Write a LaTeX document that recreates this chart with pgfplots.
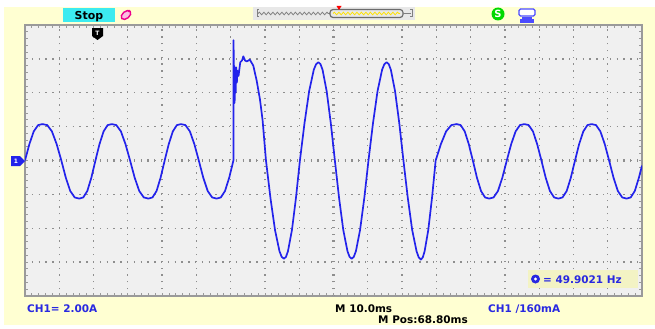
\documentclass[border=0pt]{standalone}
\usepackage{fontspec}
\setmainfont{DejaVu Sans}
\usepackage{pgfplots}
\pgfplotsset{compat=1.18}
\usetikzlibrary{decorations.pathmorphing}
\definecolor{scrbg}{HTML}{FFFFD2}
\definecolor{plotbg}{HTML}{F0F0F0}
\definecolor{trace}{RGB}{35,35,235}
\definecolor{txtblue}{RGB}{40,40,225}
\definecolor{gridc}{HTML}{8E8E8E}
\definecolor{framec}{HTML}{9A9A9A}
\definecolor{stopc}{RGB}{60,235,240}
\definecolor{freqbg}{HTML}{F3F3C4}
\begin{document}
\begin{tikzpicture}[x=1bp,y=1bp]
\fill[white] (0,0) rectangle (655,328);
\fill[scrbg] (4,3) rectangle (655,321);
\begin{axis}[at={(25bp,32bp)}, anchor=south west, scale only axis,
  width=617bp, height=271bp, xmin=0, xmax=180, ymin=-8, ymax=8,
  axis background/.style={fill=plotbg},
  xtick={0,10,...,180}, ytick={-8,-6,...,8},
  minor x tick num=4, minor y tick num=4,
  xticklabels={}, yticklabels={},
  tick align=inside, xtick pos=both, ytick pos=both,
  major tick length=3bp, minor tick length=3bp,
  every tick/.style={framec, line width=0.9bp},
  axis line style={framec, line width=1.2bp},
  grid=major,
  major grid style={gridc, line width=1.3bp, dash pattern=on 1.3bp off 5.5bp},
  extra x ticks={90}, extra y ticks={0},
  extra x tick labels={}, extra y tick labels={},
  extra tick style={grid=major, major grid style={gridc, line width=3.5bp, dash pattern=on 1.2bp off 5.6bp}},
]
\addplot[trace, line width=1.7bp, line join=round] coordinates {
(0,0) (1.28,0.97) (2.55,1.72) (3.83,2.09) (5.1,2.15) (6.48,2.09) (7.85,1.72) (9.23,0.97) (10.6,0)
(11.9,-1.01) (13.2,-1.80) (14.5,-2.18) (15.8,-2.25) (16.99,-2.18) (18.18,-1.80) (19.36,-1.01) (20.55,0)
(21.74,0.97) (22.93,1.72) (24.11,2.09) (25.3,2.15) (26.64,2.09) (27.98,1.72) (29.31,0.97) (30.65,0)
(31.99,-1.01) (33.33,-1.80) (34.66,-2.18) (36.0,-2.25) (37.19,-2.18) (38.38,-1.80) (39.56,-1.01) (40.75,0)
(41.94,0.97) (43.13,1.72) (44.31,2.09) (45.5,2.15) (46.8,2.09) (48.1,1.72) (49.4,0.97) (50.7,0)
(52.0,-1.01) (53.3,-1.80) (54.6,-2.18) (55.9,-2.25) (57.13,-2.18) (58.35,-1.80) (59.58,-1.01) (60.8,0)
(60.85,7.1) (60.95,4.0) (61.05,5.6) (61.15,3.4) (61.3,5.3) (61.45,4.0) (61.6,5.5) (61.8,4.6) (62.0,5.3)
(62.3,5.0) (62.8,5.8) (63.3,5.9) (63.7,6.15) (64.2,5.9) (64.7,5.85) (65.6,5.95) (66.6,5.6) (67.6,4.7)
(68.55,3.6) (69.3,2.4) (70.3,0)
(71.61,-2.22) (72.93,-4.10) (74.24,-5.36) (74.89,-5.69) (75.55,-5.8)
(76.13,-5.69) (76.71,-5.36) (77.88,-4.10) (79.04,-2.22) (80.2,0)
(81.55,2.22) (82.9,4.10) (84.25,5.36) (84.93,5.69) (85.6,5.8)
(86.2,5.69) (86.8,5.36) (88.0,4.10) (89.2,2.22) (90.4,0)
(91.63,-2.22) (92.85,-4.10) (94.08,-5.36) (94.69,-5.69) (95.3,-5.8)
(95.91,-5.69) (96.53,-5.36) (97.75,-4.10) (98.98,-2.22) (100.2,0)
(101.53,2.22) (102.85,4.10) (104.18,5.36) (104.84,5.69) (105.5,5.8)
(106.11,5.69) (106.73,5.36) (107.95,4.10) (109.18,2.22) (110.4,0)
(111.68,-2.22) (112.95,-4.10) (114.23,-5.36) (114.86,-5.72) (115.5,-5.85)
(116.04,-5.72) (116.58,-5.36) (117.65,-4.10) (118.73,-2.22) (119.8,0)
(121.33,0.97) (122.85,1.72) (124.38,2.09) (125.9,2.15)
(127.09,2.09) (128.28,1.72) (129.46,0.97) (130.65,0)
(131.84,-1.01) (133.03,-1.80) (134.21,-2.18) (135.4,-2.25)
(136.69,-2.18) (137.98,-1.80) (139.26,-1.01) (140.55,0)
(141.84,0.97) (143.13,1.72) (144.41,2.09) (145.7,2.15)
(146.94,2.09) (148.18,1.72) (149.41,0.97) (150.65,0)
(151.89,-1.01) (153.13,-1.80) (154.36,-2.18) (155.6,-2.25)
(156.81,-2.18) (158.03,-1.80) (159.24,-1.01) (160.45,0)
(161.66,0.97) (162.88,1.72) (164.09,2.09) (165.3,2.15)
(166.58,2.09) (167.85,1.72) (169.13,0.97) (170.4,0)
(171.68,-1.01) (172.95,-1.80) (174.23,-2.18) (175.5,-2.25)
(176.7,-2.18) (177.9,-1.80) (179.1,-1.01) (180,-0.3)
};
\end{axis}
% top bar
\fill[stopc] (63,306) rectangle (115,320);
\node[font=\bfseries\fontsize{11}{11}\selectfont, anchor=base] at (89,309) {Stop};
\draw[magenta, line width=1.4bp, fill=magenta!25, rotate around={40:(126,313)}] (126,313) ellipse (5.5bp and 3.5bp);
\fill[magenta] (129,317) circle (1.4bp);
\fill[gray!18] (253,308) rectangle (415,321);
\draw[gray, line width=1bp] (259,311)--(257,311)--(257,318)--(259,318);
\draw[gray, line width=0.8bp, decorate, decoration={snake, amplitude=1.3bp, segment length=4.5bp}] (258,314.5)--(330,314.5);
\draw[gray!85!black, line width=1.2bp, rounded corners=3bp] (330,310.5) rectangle (403,318.5);
\draw[yellow!85!orange, line width=0.8bp, decorate, decoration={snake, amplitude=1.3bp, segment length=4.5bp}] (333,314.5)--(400,314.5);
\draw[gray, line width=1bp] (403,314.5)--(411,314.5) (410,311)--(412,311)--(412,318)--(410,318);
\fill[red] (336.5,322)--(341.5,322)--(339,318)--cycle;
\fill[green!85!black] (498,314) circle (6.5bp);
\node[white, font=\bfseries\fontsize{10}{10}\selectfont] at (498,314) {S};
\draw[blue!70, line width=1.2bp, fill=white, rounded corners=1.5bp] (519,312) rectangle (535,319);
\fill[blue!70] (522,307.5) rectangle (532,311);
\draw[blue!70, line width=1.2bp] (521,308) rectangle (533,306);
% trigger marker
\fill[black] (92,300)--(103,300)--(103,292)--(97.5,288)--(92,292)--cycle;
\node[white, font=\bfseries\fontsize{6}{6}\selectfont] at (97.5,295) {T};
% ground marker
\fill[trace] (11,162)--(20,162)--(25,167)--(20,172)--(11,172)--cycle;
\node[white, font=\bfseries\fontsize{6}{6}\selectfont] at (16,167) {1};
% bottom texts
\node[txtblue, font=\bfseries\fontsize{10.5}{10.5}\selectfont, anchor=base west, inner sep=0] at (27,15.5) {CH1= 2.00A};
\node[black, font=\bfseries\fontsize{10.5}{10.5}\selectfont, anchor=base west, inner sep=0] at (335,16) {M 10.0ms};
\node[black, font=\bfseries\fontsize{10.5}{10.5}\selectfont, anchor=base west, inner sep=0] at (378,4.5) {M Pos:68.80ms};
\node[txtblue, font=\bfseries\fontsize{10.5}{10.5}\selectfont, anchor=base west, inner sep=0] at (488,16) {CH1 /160mA};
% frequency readout
\fill[freqbg] (528,40) rectangle (638,58);
\fill[txtblue] (535.5,49) circle (4.5bp);
\fill[white] (535.5,49) circle (1.6bp);
\node[txtblue, font=\bfseries\fontsize{10.5}{10.5}\selectfont, anchor=base west, inner sep=0] at (543,44.5) {= 49.9021 Hz};
\end{tikzpicture}
\end{document}
